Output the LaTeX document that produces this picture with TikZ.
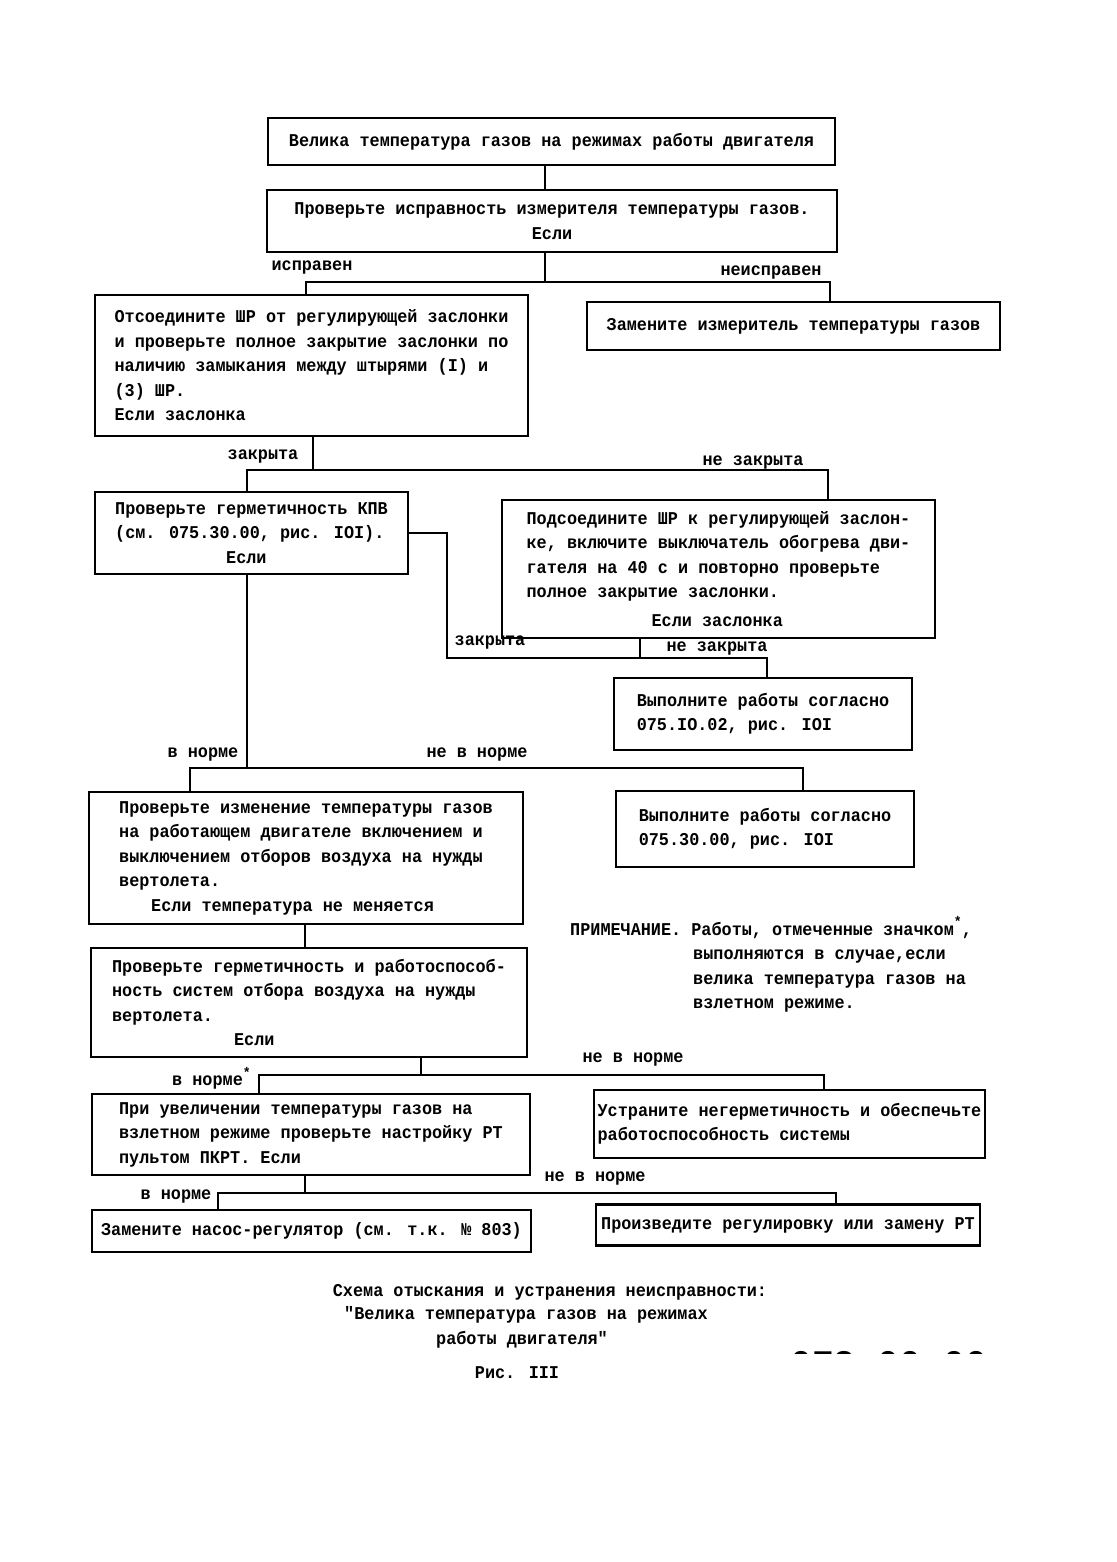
\documentclass[tikz,border=0pt]{standalone}
\usepackage{fontspec}
\newfontfamily\tyfont{Liberation Mono}[FakeStretch=0.935]
\newcommand\twfont{\tyfont\bfseries\fontsize{18}{24.5}\selectfont}
\newcommand\bigtw{\tyfont\bfseries\fontsize{39}{44}\selectfont}
\newcommand\zv{\raisebox{0.45em}{\fontsize{14}{14}\selectfont *}}
\tikzset{
  box/.style={draw, line width=2.7pt, inner sep=0pt, align=left, font=\twfont},
  lab/.style={inner sep=0pt, font=\twfont},
  conn/.style={line width=2.7pt},
}
\begin{document}
\begin{tikzpicture}[x=1pt,y=-1pt]
\useasboundingbox (0,0) rectangle (1116,1562);

% boxes
\node[box, minimum width=567, minimum height=47] (b1) at (551.5,141.5)
  {Велика температура газов на режимах работы двигателя};
\node[box, align=center, minimum width=570, minimum height=62] (b2) at (552,221)
  {Проверьте исправность измерителя температуры газов.\\Если};
\node[box, minimum width=433, minimum height=141] (b3) at (311.5,365.5)
  {Отсоедините ШР от регулирующей заслонки\\
   и проверьте полное закрытие заслонки по\\
   наличию замыкания между штырями (I) и\\
   (3) ШР.\\
   Если заслонка};
\node[box, minimum width=413, minimum height=48] (b4) at (793.5,326)
  {Замените измеритель температуры газов};
\node[box, minimum width=313, minimum height=82] (b5) at (251.5,533)
  {Проверьте герметичность КПВ\\
   (см. 075.30.00, рис. IOI).\\
   \hspace*{111pt}Если};
\node[box, minimum width=433, minimum height=138] (b6) at (718.5,569)
  {Подсоедините ШР к регулирующей заслон-\\
   ке, включите выключатель обогрева дви-\\
   гателя на 40 с и повторно проверьте\\
   полное закрытие заслонки.\\[4pt]
   \hspace*{125pt}Если заслонка};
\node[box, minimum width=298, minimum height=72] (b7) at (763,714)
  {Выполните работы согласно\\075.IO.02, рис. IOI};
\node[box, minimum width=434, minimum height=132] (b8) at (306,858)
  {Проверьте изменение температуры газов\\
   на работающем двигателе включением и\\
   выключением отборов воздуха на нужды\\
   вертолета.\\
   \hspace*{32pt}Если температура не меняется};
\node[box, minimum width=298, minimum height=76] (b9) at (765,829)
  {Выполните работы согласно\\075.30.00, рис. IOI};
\node[box, minimum width=436, minimum height=109] (b10) at (309,1002.5)
  {Проверьте герметичность и работоспособ-\\
   ность систем отбора воздуха на нужды\\
   вертолета.\\
   \hspace*{122pt}Если};
\node[box, minimum width=438, minimum height=81] (b11) at (311,1134.5)
  {При увеличении температуры газов на\\
   взлетном режиме проверьте настройку РТ\\
   пультом ПКРТ. Если};
\node[box, minimum width=391, minimum height=68] (b12) at (789.5,1124)
  {Устраните негерметичность и обеспечьте\\
   работоспособность системы};
\node[box, minimum width=439, minimum height=42] (b13) at (311.5,1231)
  {Замените насос-регулятор (см. т.к. № 803)};
\node[box, minimum width=384, minimum height=41] (b14) at (788,1225)
  {Произведите регулировку или замену РТ};

% junctions
\coordinate (j1) at (545,282);
\coordinate (j2) at (313,470);
\coordinate (j3) at (640,658);
\coordinate (j4) at (247,768);
\coordinate (j6) at (421,1075);
\coordinate (j7) at (305,1193);

% connectors
\draw[conn] (b1.south -| j1) -- (b2.north -| j1);
\draw[conn] (b2.south -| j1) -- (j1);
\draw[conn] (b3.north -| 306,0) |- (j1) -| (b4.north -| 830,0);

\draw[conn] (b3.south -| j2) -- (j2);
\draw[conn] (b5.north -| 247,0) |- (j2) -| (b6.north -| 828,0);

\draw[conn] (b6.south -| j3) -- (j3);
\draw[conn] (b5.east) -- (447,533) |- (j3) -| (b7.north -| 767,0);

\draw[conn] (b5.south -| j4) -- (j4);
\draw[conn] (b8.north -| 190,0) |- (j4) -| (b9.north -| 803,0);

\draw[conn] (b8.south -| 305,0) -- (b10.north -| 305,0);

\draw[conn] (b10.south -| j6) -- (j6);
\draw[conn] (b11.north -| 259,0) |- (j6) -| (b12.north -| 824,0);

\draw[conn] (b11.south -| j7) -- (j7);
\draw[conn] (b13.north -| 218,0) |- (j7) -| (b14.north -| 836,0);

% labels
\node[lab] (l1) at (312,268) {исправен};
\node[lab] (l2) at (771,273) {неисправен};
\node[lab] (l3) at (263,457) {закрыта};
\node[lab] (l4) at (753,463) {не закрыта};
\node[lab] (l5) at (490,643) {закрыта};
\node[lab] (l6) at (717,649) {не закрыта};
\node[lab] (l7) at (203,755) {в норме};
\node[lab] (l8) at (477,755) {не в норме};
\node[lab, anchor=west] (l9) at (172,1078) {в норме\zv};
\node[lab] (l10) at (633,1060) {не в норме};
\node[lab] (l11) at (176,1197) {в норме};
\node[lab] (l12) at (595,1179) {не в норме};

% note
\node[lab, anchor=west, align=left] (note) at (570,964.5)
  {ПРИМЕЧАНИЕ. Работы, отмеченные значком\zv,\\
   \hspace*{123pt}выполняются в случае,если\\
   \hspace*{123pt}велика температура газов на\\
   \hspace*{123pt}взлетном режиме.};

% caption
\node[lab] (c1) at (550,1292) {Схема отыскания и устранения неисправности:};
\node[lab] (c2) at (526,1315) {"Велика температура газов на режимах};
\node[lab] (c3) at (522,1340) {работы двигателя"};
\node[lab] (c4) at (517,1373) {Рис. III};

% cut-off page number
\begin{scope}
\clip (780,1330) rectangle (1010,1353);
\node[inner sep=0pt, anchor=north west, font=\bigtw] (pg) at (790,1351) {073.00.00};
\end{scope}
\end{tikzpicture}
\end{document}
